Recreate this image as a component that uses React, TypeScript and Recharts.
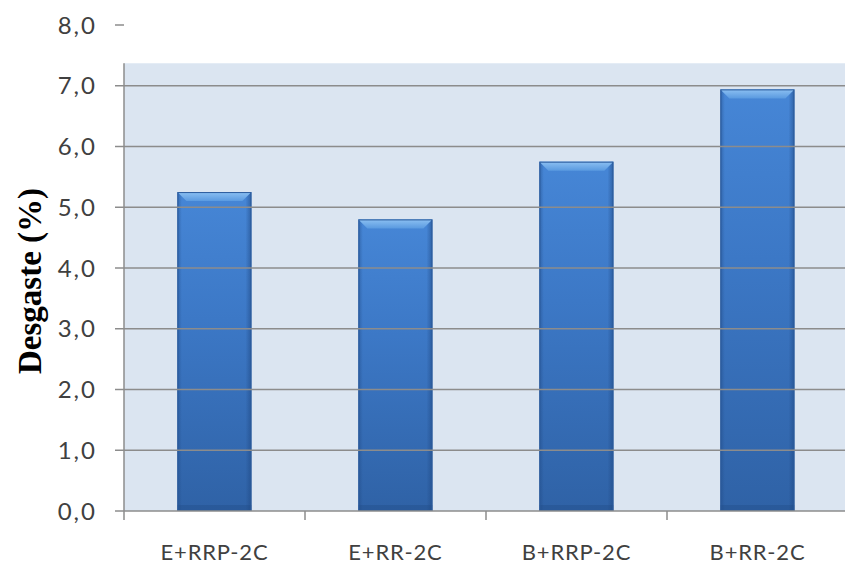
import React from 'react';
import { BarChart, Bar, XAxis, YAxis, ReferenceArea, ReferenceLine } from 'recharts';

const categories = ['E+RRP-2C', 'E+RR-2C', 'B+RRP-2C', 'B+RR-2C'];
const desgaste = [5.25, 4.8, 5.75, 6.94];
const yTicks = [0, 1, 2, 3, 4, 5, 6, 7, 8];
const gridValues = [1, 2, 3, 4, 5, 6, 7];

const data = categories.map((name, i) => ({ name, value: desgaste[i] }));

const CHART_W = 850;
const CHART_H = 565;
const Y_AXIS_W = 124;
const MARGIN = { top: 25, right: 2, bottom: 0, left: 0 };
const BAND = (CHART_W - Y_AXIS_W - MARGIN.left - MARGIN.right) / categories.length;

const AXIS_GRAY = '#8c8c8c';
const TEXT_GRAY = '#404040';
const PLOT_BG = '#dbe5f1';
const PLOT_TOP = 7.37; // the shaded plot area stops below the 8,0 tick

const fmt = (v: number) => v.toFixed(1).replace('.', ',');

const PlotBackground = (props: any) => {
  const { x, y, width, height } = props;
  return (
    <g>
      <rect x={x} y={y} width={width} height={height} fill={PLOT_BG} />
      <line x1={x} y1={y} x2={x} y2={y + height} stroke={AXIS_GRAY} strokeWidth={1.5} />
    </g>
  );
};

const BevelBar = (props: any) => {
  const { x, y, width, height } = props;
  if (!height || height <= 0) return null;
  const b = 9;
  return (
    <g>
      <rect x={x} y={y} width={width} height={height} fill="url(#barBody)" />
      <rect x={x} y={y} width={width} height={height} fill="url(#barSides)" />
      <polygon
        points={`${x},${y} ${x + width},${y} ${x + width - b},${y + b} ${x + b},${y + b}`}
        fill="url(#barTop)"
      />
      <rect x={x} y={y + height - 6} width={width} height={6} fill="#1f4a85" opacity={0.35} />
      <rect x={x + 0.5} y={y + 0.5} width={width - 1} height={height - 1} fill="none" stroke="#2b5b9c" strokeWidth={1} />
    </g>
  );
};

const XTick = (props: any) => {
  const { x, y, payload } = props;
  return (
    <g>
      <line x1={x - BAND / 2} y1={y - 2} x2={x - BAND / 2} y2={y + 7} stroke={AXIS_GRAY} strokeWidth={1.5} />
      <text
        x={x}
        y={y}
        dy={38}
        textAnchor="middle"
        dominantBaseline="central"
        fill={TEXT_GRAY}
        fontFamily="Lato, sans-serif"
        fontSize={22}
        letterSpacing={0.8}
      >
        {payload.value}
      </text>
    </g>
  );
};

const YLabel = (props: any) => {
  const { viewBox } = props;
  const cx = viewBox.x + 30;
  const cy = viewBox.y + viewBox.height / 2 + 13;
  return (
    <text
      x={cx}
      y={cy}
      transform={`rotate(-90, ${cx}, ${cy})`}
      textAnchor="middle"
      dominantBaseline="central"
      fontFamily="'Liberation Serif', 'Times New Roman', serif"
      fontWeight="bold"
      fontSize={33}
      fill="#000"
    >
      Desgaste (%)
    </text>
  );
};

export default function App() {
  return (
    <div
      style={{
        position: 'absolute',
        left: 0,
        top: 0,
        width: 845,
        height: 565,
        overflow: 'hidden',
        background: '#fff',
      }}
    >
      <BarChart width={CHART_W} height={CHART_H} data={data} margin={MARGIN} barCategoryGap="29.5%">
        <defs>
          <linearGradient id="barBody" x1="0" y1="0" x2="0" y2="1">
            <stop offset="0%" stopColor="#4686d6" />
            <stop offset="40%" stopColor="#3c78c6" />
            <stop offset="100%" stopColor="#2f62a6" />
          </linearGradient>
          <linearGradient id="barSides" x1="0" y1="0" x2="1" y2="0">
            <stop offset="0%" stopColor="#1e4680" stopOpacity={0.45} />
            <stop offset="6%" stopColor="#1e4680" stopOpacity={0} />
            <stop offset="92%" stopColor="#1e4680" stopOpacity={0} />
            <stop offset="100%" stopColor="#1e4680" stopOpacity={0.55} />
          </linearGradient>
          <linearGradient id="barTop" x1="0" y1="0" x2="0" y2="1">
            <stop offset="0%" stopColor="#8cc0f2" />
            <stop offset="100%" stopColor="#5a9ae0" />
          </linearGradient>
        </defs>
        <ReferenceArea y1={0} y2={PLOT_TOP} shape={<PlotBackground />} ifOverflow="visible" />
        {gridValues.map((v) => (
          <ReferenceLine key={v} y={v} stroke={AXIS_GRAY} strokeWidth={1.5} />
        ))}
        <XAxis
          dataKey="name"
          height={54}
          axisLine={{ stroke: AXIS_GRAY, strokeWidth: 1.5 }}
          tickLine={false}
          tickSize={0}
          tickMargin={2}
          interval={0}
          tick={<XTick />}
        />
        <YAxis
          width={Y_AXIS_W}
          domain={[0, 8]}
          ticks={yTicks}
          interval={0}
          tickFormatter={fmt}
          axisLine={false}
          tickLine={{ stroke: AXIS_GRAY, strokeWidth: 1.5 }}
          tickSize={9}
          tickMargin={18}
          tick={{ fill: TEXT_GRAY, fontFamily: 'Lato, sans-serif', fontSize: 24, letterSpacing: 2 }}
          label={<YLabel />}
        />
        <Bar dataKey="value" shape={<BevelBar />} isAnimationActive={false} />
      </BarChart>
    </div>
  );
}
